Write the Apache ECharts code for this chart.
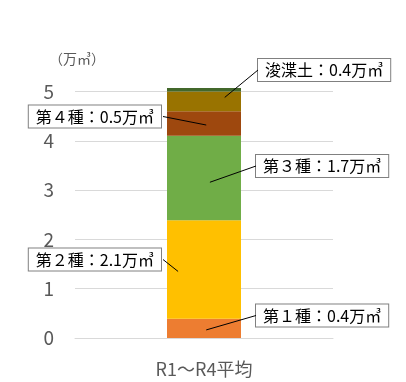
<!DOCTYPE html>
<html>
<head>
<meta charset="utf-8">
<script src="https://cdn.jsdelivr.net/npm/echarts@6/dist/echarts.min.js"></script>
<style>
  html, body { margin: 0; padding: 0; background: #fff; }
  #chart { width: 406px; height: 382px; }
</style>
</head>
<body>
<div id="chart"></div>
<script>
// データ
const categories = ['R1～R4平均']
const seriesNames = ['第１種', '第２種', '第３種', '第４種', '浚渫土', 'その他']
const barValues = [0.39, 2.0, 1.71, 0.5, 0.4, 0.07]
const labelValues = ['0.4', '2.1', '1.7', '0.5', '0.4', null]
const yTicks = [0, 1, 2, 3, 4, 5]

const colors = ['#ED7D31', '#FFC000', '#70AD47', '#9E480E', '#997300', '#43682B']

// ラベルボックスの位置（左端 or 右端, 縦中央）と線の先端（バー内の割合）
const labelPos = [
  { x: 256, y: 315.5, fx: 0.53, fy: 0.58 },
  { right: 163, y: 259.5, fx: 0.15, fy: 0.52 },
  { x: 256, y: 166, fx: 0.58, fy: 0.55 },
  { right: 163, y: 116.5, fx: 0.53, fy: 0.56 },
  { x: 258, y: 70, fx: 0.78, fy: 0.3 }
]
const barWidth = 74

const fontFamily = '"Noto Sans CJK JP", "Noto Sans", sans-serif'

const chart = echarts.init(document.getElementById('chart'))

const series = seriesNames.map((name, i) => {
  const hasLabel = labelValues[i] !== null
  return {
    name: name,
    type: 'bar',
    stack: 'total',
    barWidth: barWidth,
    clip: false,
    data: [barValues[i]],
    itemStyle: { color: colors[i] },
    z: 2,
    label: {
      show: hasLabel,
      formatter: () => name + '：' + labelValues[i] + '万㎥',
      color: '#000',
      fontSize: 16,
      fontFamily: fontFamily,
      backgroundColor: '#fff',
      borderColor: '#808080',
      borderWidth: 1,
      padding: [3, 7, 3, 7]
    },
    labelLayout: hasLabel ? (params) => {
      const p = labelPos[i]
      const w = params.labelRect.width
      const left = p.right !== undefined ? p.right - w : p.x
      return { x: left, y: p.y, align: 'left', verticalAlign: 'middle' }
    } : undefined
  }
})

const option = {
  animation: false,
  title: {
    text: '（万㎥）',
    left: 44,
    top: 47,
    textStyle: { fontSize: 14, fontWeight: 'normal', color: '#595959', fontFamily: fontFamily }
  },
  grid: { left: 75, right: 73, top: 91.5, bottom: 44 },
  xAxis: {
    type: 'category',
    data: categories,
    axisLine: { show: true, lineStyle: { color: '#d9d9d9' } },
    axisTick: { show: false },
    axisLabel: { color: '#595959', fontSize: 18, margin: 22, fontFamily: fontFamily }
  },
  yAxis: {
    type: 'value',
    min: yTicks[0],
    max: yTicks[yTicks.length - 1],
    interval: 1,
    axisLine: { show: false },
    axisTick: { show: false },
    axisLabel: { color: '#595959', fontSize: 19, margin: 21, fontFamily: fontFamily },
    splitLine: { lineStyle: { color: '#d9d9d9', width: 1 } }
  },
  series: series
}

chart.setOption(option)

// 引出線（ラベルボックスからバー内の点へ）
const lines = []
let base = 0
barValues.forEach((v, i) => {
  const p = labelPos[i]
  if (p) {
    const bottom = chart.convertToPixel({ seriesIndex: 0 }, [0, base])
    const top = chart.convertToPixel({ seriesIndex: 0 }, [0, base + v])
    const tx = bottom[0] - barWidth / 2 + barWidth * p.fx
    const ty = top[1] + (bottom[1] - top[1]) * p.fy
    const ex = p.right !== undefined ? p.right : p.x
    lines.push({
      type: 'line',
      z: 50,
      shape: { x1: ex, y1: p.y, x2: tx, y2: ty },
      style: { stroke: '#000', lineWidth: 1 }
    })
  }
  base += v
})
chart.setOption({ graphic: lines })
</script>
</body>
</html>
